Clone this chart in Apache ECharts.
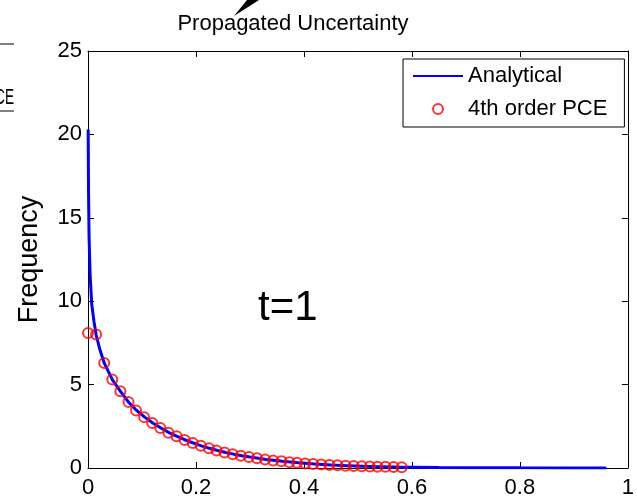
<!DOCTYPE html>
<html>
<head>
<meta charset="utf-8">
<script src="https://cdn.jsdelivr.net/npm/echarts@6/dist/echarts.min.js"></script>
<style>
html,body{margin:0;padding:0;background:#fff;}
#chart{width:637px;height:499px;}
</style>
</head>
<body>
<div id="chart"></div>
<script>
// ---- data ----
var titleText = 'Propagated Uncertainty';
var yAxisTitle = 'Frequency';
var annotation = 't=1';
var seriesNames = ['Analytical', '4th order PCE'];
var xTicks = [0, 0.2, 0.4, 0.6, 0.8, 1];
var yTicks = [0, 5, 10, 15, 20, 25];

var analyticalX = [0.0003, 0.001, 0.002, 0.004, 0.007, 0.011, 0.015, 0.022, 0.03, 0.045, 0.06, 0.075, 0.09, 0.105, 0.12, 0.135, 0.15, 0.165, 0.18, 0.195, 0.21, 0.225, 0.24, 0.255, 0.27, 0.285, 0.3, 0.33, 0.36, 0.39, 0.42, 0.45, 0.48, 0.51, 0.54, 0.57, 0.6, 0.65, 0.7, 0.8, 0.9, 0.96];
var analyticalY = [20.3, 16.5, 13.8, 11.5, 9.8, 8.8, 8.0, 7.1, 6.3, 5.3, 4.6, 3.95, 3.45, 3.05, 2.7, 2.4, 2.12, 1.9, 1.68, 1.5, 1.33, 1.18, 1.05, 0.93, 0.83, 0.74, 0.66, 0.51, 0.4, 0.31, 0.24, 0.18, 0.14, 0.1, 0.08, 0.06, 0.05, 0.03, 0.02, 0.01, 0.005, 0.003];

var pceX = [0, 0.015, 0.030, 0.045, 0.060, 0.075, 0.089, 0.104, 0.119, 0.134, 0.149, 0.164, 0.179, 0.194, 0.209, 0.224, 0.238, 0.253, 0.268, 0.283, 0.298, 0.313, 0.328, 0.343, 0.358, 0.373, 0.387, 0.402, 0.417, 0.432, 0.447, 0.462, 0.477, 0.492, 0.507, 0.522, 0.536, 0.551, 0.566, 0.581];
var pceY = [8.1, 8.0, 6.3, 5.3, 4.6, 3.95, 3.45, 3.05, 2.7, 2.4, 2.12, 1.9, 1.68, 1.5, 1.33, 1.18, 1.05, 0.93, 0.83, 0.74, 0.66, 0.58, 0.51, 0.45, 0.4, 0.35, 0.31, 0.27, 0.24, 0.21, 0.18, 0.16, 0.14, 0.12, 0.1, 0.09, 0.08, 0.07, 0.06, 0.05];

// ---- build chart ----
var FONT = 'Liberation Sans, Arial, sans-serif';
var analytical = analyticalX.map(function (x, i) { return [x, analyticalY[i]]; });
var pce = pceX.map(function (x, i) { return [x, pceY[i]]; });

function xLabel(v) { return String(v); }

var chart = echarts.init(document.getElementById('chart'), null, {renderer: 'canvas'});
var axisLine = {show: true, onZero: false, lineStyle: {color: '#000', width: 1}};
var tickIn = {show: true, inside: true, length: 6, lineStyle: {color: '#000', width: 1}};

chart.setOption({
  animation: false,
  backgroundColor: '#fff',
  title: {
    text: titleText,
    left: 288, top: 8,
    textAlign: 'center',
    textStyle: {fontFamily: FONT, fontSize: 22, fontWeight: 'normal', color: '#000'}
  },
  grid: {left: 88, right: 2, top: 51, bottom: 31, containLabel: false},
  legend: {
    orient: 'vertical',
    left: 403, top: 59,
    padding: [6, 17, 7, 10],
    itemGap: 11,
    itemWidth: 50, itemHeight: 10,
    backgroundColor: '#fff',
    borderColor: '#000', borderWidth: 1,
    textStyle: {fontFamily: FONT, fontSize: 22, color: '#000'},
    data: [
      {name: seriesNames[0], icon: 'path://M0,0H50V2H0Z', itemStyle: {color: '#0000ff', borderWidth: 0}},
      {name: seriesNames[1], icon: 'circle', itemStyle: {color: 'rgba(0,0,0,0)', borderColor: '#ff0000', borderWidth: 2}}
    ]
  },
  xAxis: [{
    type: 'value', position: 'bottom', min: 0, max: 1, interval: 0.2,
    axisLine: axisLine, axisTick: tickIn, splitLine: {show: false},
    axisLabel: {fontFamily: FONT, fontSize: 22, color: '#000', margin: 9, formatter: xLabel}
  }, {
    type: 'value', position: 'top', min: 0, max: 1, interval: 0.2,
    axisLine: axisLine, axisTick: tickIn, splitLine: {show: false}, axisLabel: {show: false}
  }],
  yAxis: [{
    type: 'value', position: 'left', min: 0, max: 25, interval: 5,
    name: yAxisTitle, nameLocation: 'middle', nameGap: 45,
    nameTextStyle: {fontFamily: FONT, fontSize: 27, color: '#000'},
    axisLine: axisLine, axisTick: tickIn, splitLine: {show: false},
    axisLabel: {fontFamily: FONT, fontSize: 22, color: '#000', margin: 6}
  }, {
    type: 'value', position: 'right', min: 0, max: 25, interval: 5,
    axisLine: axisLine, axisTick: tickIn, splitLine: {show: false}, axisLabel: {show: false}
  }],
  series: [{
    name: seriesNames[0],
    type: 'line',
    data: analytical,
    symbol: 'none',
    smooth: false,
    lineStyle: {color: '#0000ff', width: 3},
    itemStyle: {color: '#0000ff'},
    z: 2
  }, {
    name: seriesNames[1],
    type: 'scatter',
    data: pce,
    symbol: 'circle',
    symbolSize: 10,
    itemStyle: {color: 'rgba(0,0,0,0)', borderColor: '#ff0000', borderWidth: 2},
    z: 3
  }],
  graphic: [
    {type: 'text', left: 258, top: 287, style: {text: annotation, font: '42px ' + FONT, fill: '#000'}},
    {type: 'polygon', shape: {points: [[234, 16], [247, 0], [259, 0]]}, style: {fill: '#000'}},
    {type: 'line', shape: {x1: 0, y1: 44, x2: 14, y2: 44}, style: {stroke: '#000', lineWidth: 1}},
    {type: 'line', shape: {x1: 0, y1: 111, x2: 14, y2: 111}, style: {stroke: '#000', lineWidth: 1}},
    {type: 'text', x: 14, y: 98, scaleX: 0.62, style: {text: 'PCE', font: '22px ' + FONT, fill: '#000', textAlign: 'right', textVerticalAlign: 'middle'}}
  ]
});
</script>
</body>
</html>
